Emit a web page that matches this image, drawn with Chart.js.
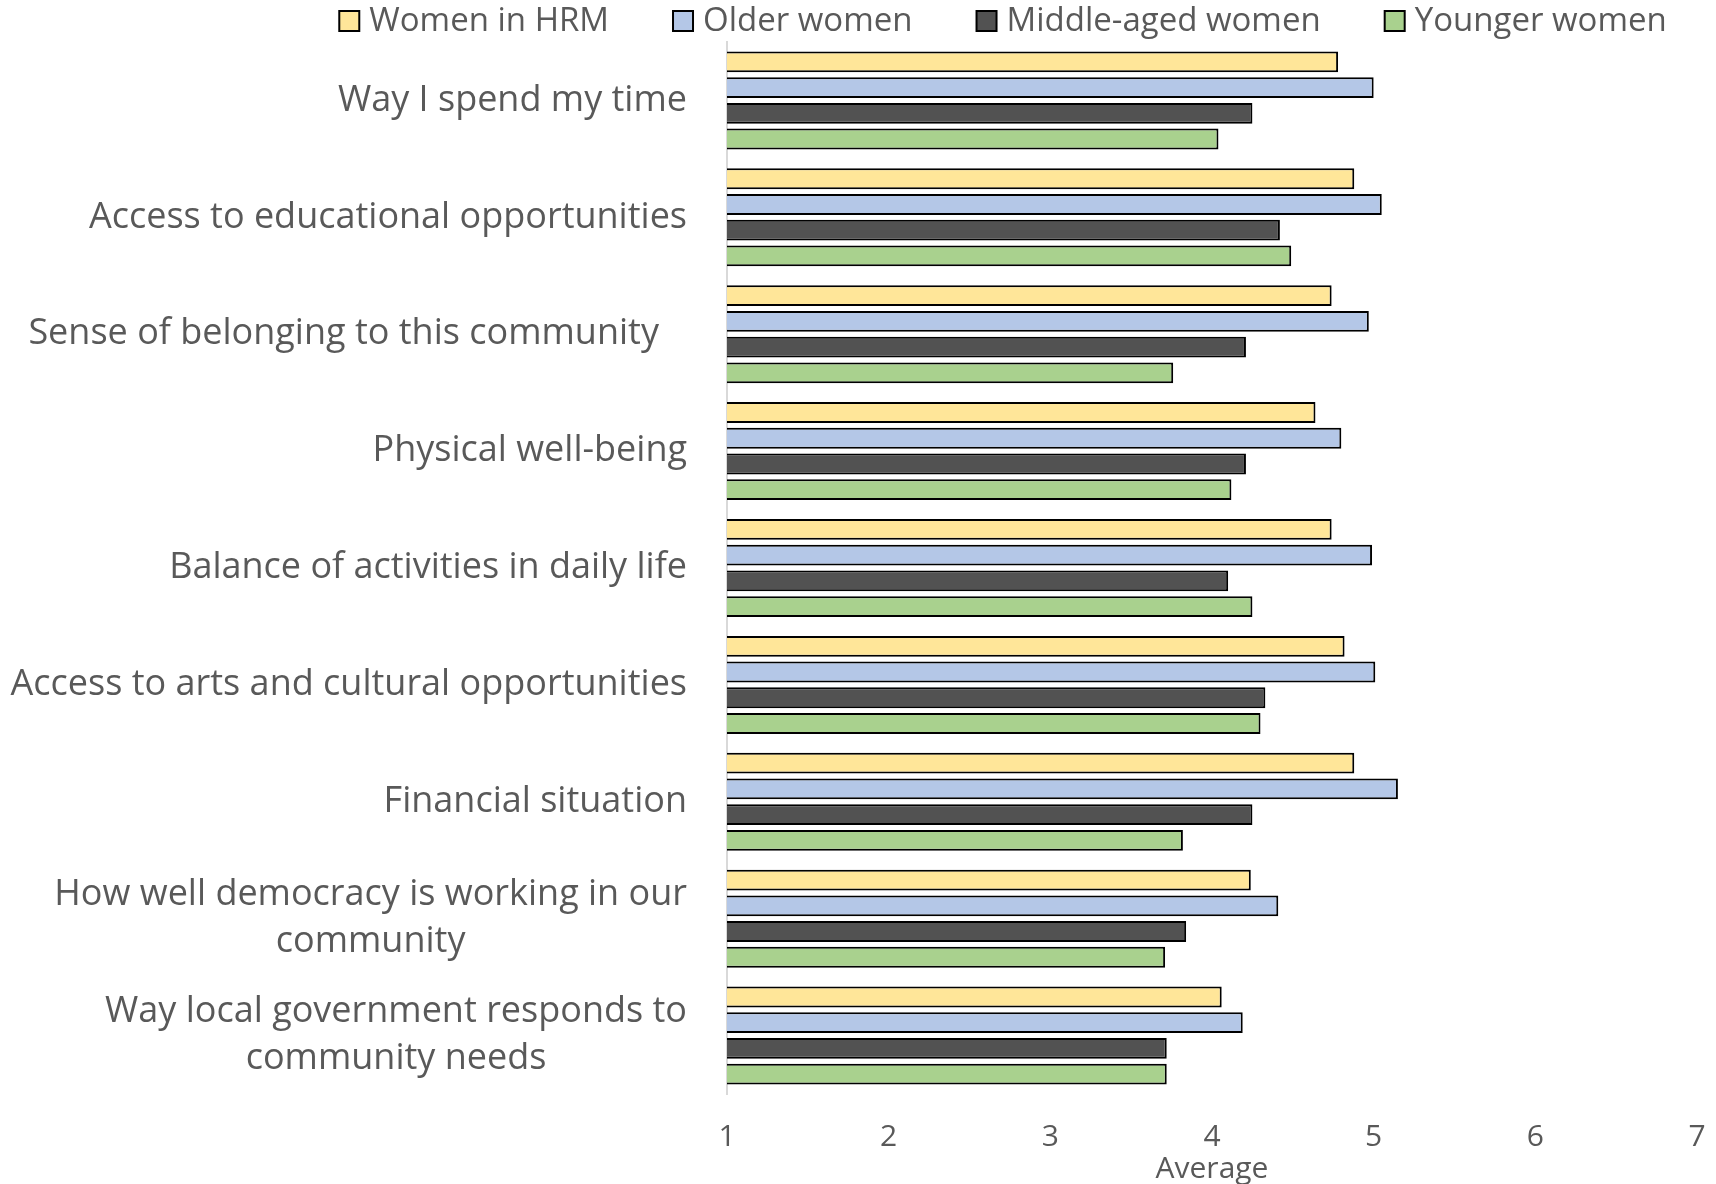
<!DOCTYPE html>
<html>
<head>
<meta charset="utf-8">
<script src="https://cdn.jsdelivr.net/npm/chart.js@4.4.1/dist/chart.umd.min.js"></script>
<style>
  body { margin: 0; background: #fff; }
  #wrap { width: 1716px; height: 1184px; }
</style>
</head>
<body>
<div id="wrap"><canvas id="satisfaction"></canvas></div>
<script>
// categorias (de cima para baixo) e medias
const categories = [
  'Way I spend my time',
  'Access to educational opportunities',
  'Sense of belonging to this community   ',
  'Physical well-being',
  'Balance of activities in daily life',
  'Access to arts and cultural opportunities',
  'Financial situation',
  ['How well democracy is working in our', 'community'],
  ['Way local government responds to', 'community needs']
];
const seriesNames = ['Women in HRM', 'Older women', 'Middle-aged women', 'Younger women'];
const womenHRM     = [4.78, 4.88, 4.74, 4.64, 4.74, 4.82, 4.88, 4.24, 4.06];
const olderWomen   = [5.00, 5.05, 4.97, 4.80, 4.99, 5.01, 5.15, 4.41, 4.19];
const middleAged   = [4.25, 4.42, 4.21, 4.21, 4.10, 4.33, 4.25, 3.84, 3.72];
const youngerWomen = [4.04, 4.49, 3.76, 4.12, 4.25, 4.30, 3.82, 3.71, 3.72];
const xTicks = [1, 2, 3, 4, 5, 6, 7];

const colors = ['#FFE699', '#B4C7E7', '#525252', '#A9D18E'];
const textColor = '#595959';
const fontFamily = '"Open Sans", Lato, sans-serif';

// rotulos do eixo y desenhados a mao para centralizar as linhas quebradas
const yLabels = {
  id: 'yLabels',
  afterDraw(chart) {
    const ctx = chart.ctx;
    const yScale = chart.scales.y;
    const lineH = 47;
    ctx.save();
    ctx.font = '36px ' + fontFamily;
    ctx.fillStyle = textColor;
    ctx.textAlign = 'center';
    ctx.textBaseline = 'middle';
    categories.forEach((lab, i) => {
      const lines = Array.isArray(lab) ? lab : [lab];
      const maxW = Math.max(...lines.map(l => ctx.measureText(l).width));
      const cx = chart.chartArea.left - 40 - maxW / 2;
      const cy = yScale.getPixelForTick(i);
      lines.forEach((l, k) => {
        ctx.fillText(l, cx, cy + (k - (lines.length - 1) / 2) * lineH);
      });
    });
    ctx.restore();
  }
};

// legenda compacta no topo (a do Chart.js deixa muito espaco vertical)
const topLegend = {
  id: 'topLegend',
  afterDraw(chart) {
    const ctx = chart.ctx;
    const box = 20, gapText = 10, gapItem = 64, cy = 21;
    ctx.save();
    ctx.font = '33px ' + fontFamily;
    ctx.textBaseline = 'middle';
    ctx.textAlign = 'left';
    const widths = seriesNames.map(n => ctx.measureText(n).width);
    const total = widths.reduce((a, w) => a + box + gapText + w, 0) + gapItem * (seriesNames.length - 1);
    let x = 1003 - total / 2;
    seriesNames.forEach((n, i) => {
      ctx.fillStyle = colors[i];
      ctx.fillRect(x, cy - box / 2, box, box);
      ctx.strokeStyle = '#000';
      ctx.lineWidth = 2;
      ctx.strokeRect(x, cy - box / 2, box, box);
      ctx.fillStyle = textColor;
      ctx.fillText(n, x + box + gapText, cy + 1);
      x += box + gapText + widths[i] + gapItem;
    });
    ctx.restore();
  }
};

const seriesData = [womenHRM, olderWomen, middleAged, youngerWomen];

new Chart(document.getElementById('satisfaction').getContext('2d'), {
  type: 'bar',
  data: {
    labels: categories,
    datasets: seriesNames.map((name, i) => ({
      label: name,
      data: seriesData[i],
      base: 1,
      backgroundColor: colors[i],
      borderColor: '#000',
      borderWidth: 2,
      categoryPercentage: 0.88,
      barPercentage: 0.81
    }))
  },
  options: {
    indexAxis: 'y',
    responsive: true,
    maintainAspectRatio: false,
    animation: false,
    layout: { padding: { left: 0, right: 19, top: 42, bottom: 0 } },
    plugins: {
      legend: { display: false },
      tooltip: { enabled: false }
    },
    scales: {
      x: {
        min: 1,
        max: 7,
        afterBuildTicks(scale) { scale.ticks = xTicks.map(v => ({ value: v })); },
        afterFit(scale) {
          scale.height = 90;
          scale.paddingLeft = 0;
          scale.paddingRight = 0;
        },
        grid: { display: false, drawTicks: false },
        border: { display: false },
        ticks: { color: textColor, font: { family: fontFamily, size: 30 }, padding: 25 },
        title: {
          display: true, text: 'Average', color: textColor,
          font: { family: fontFamily, size: 30, lineHeight: 1.0 }, padding: 0
        }
      },
      y: {
        afterFit(scale) { scale.width = 727; },
        grid: { display: false },
        border: { display: true, color: '#D9D9D9', width: 2 },
        ticks: { display: false }
      }
    }
  },
  plugins: [yLabels, topLegend]
});
</script>
</body>
</html>
